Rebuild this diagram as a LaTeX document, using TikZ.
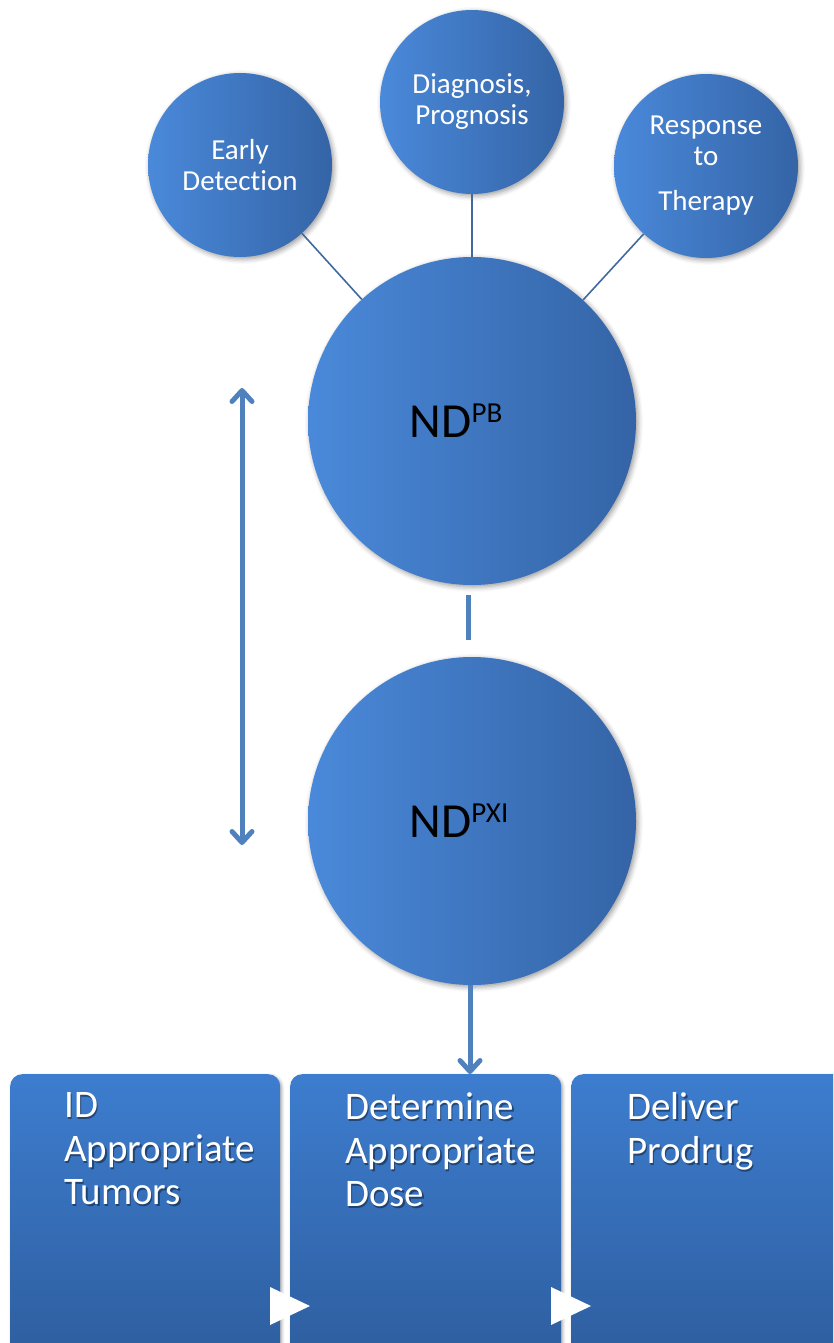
\documentclass[tikz,border=0pt]{standalone}
\usepackage{fontspec}
\setmainfont{Carlito}[Ligatures=NoCommon]
\usetikzlibrary{arrows.meta,shadows,shadows.blur,calc}

\definecolor{circL}{HTML}{4A89DA}
\definecolor{circR}{HTML}{3464A6}
\definecolor{boxT}{HTML}{3D7DCF}
\definecolor{boxB}{HTML}{2D5C9C}
\definecolor{linkC}{HTML}{41699E}
\definecolor{arrowC}{HTML}{4F81BD}

\begin{document}
\begin{tikzpicture}[x=1pt,y=-1pt,
  bubble/.style={circle, inner sep=0pt, minimum size=#1, draw=none,
    left color=circL, right color=circR,
    blur shadow={shadow xshift=2pt, shadow yshift=-2pt, shadow blur radius=5pt, shadow opacity=40},
    align=center},
  small/.style={bubble=184pt, text=white, font=\fontsize{29}{31}\selectfont},
  big/.style={bubble=328pt, text=black, font=\fontsize{49}{52}\selectfont},
  stage/.style={rectangle, rounded corners=12pt, inner sep=0pt, anchor=north west,
    minimum height=300pt, top color=boxT, bottom color=boxB,
    blur shadow={shadow xshift=1.5pt, shadow yshift=-1.5pt, shadow blur radius=3pt, shadow opacity=35}},
  stagetext/.style={anchor=north west, inner sep=0pt, align=left, text=white,
    font=\fontsize{39}{43.5}\selectfont},
  stageshadow/.style={stagetext, text=black, text opacity=0.4},
  link/.style={draw=linkC, line width=1.6pt},
  bar/.style={draw=arrowC, line width=5pt},
  tip/.style={bar, arrows={-Straight Barb[length=11pt,width=20pt,line join=round,line cap=round]}},
  dtip/.style={bar, arrows={Straight Barb[length=11pt,width=20pt,line join=round,line cap=round]-Straight Barb[length=11pt,width=20pt,line join=round,line cap=round]}},
  chevron/.style={fill=white}
]
\useasboundingbox (0,0) rectangle (833,1343);
\clip (0,0) rectangle (833,1343);

% outcome bubbles
\node[small] (early) at (240,165) {Early\\Detection};
\node[small] (diag)  at (472,102) {Diagnosis,\\Prognosis};
\node[small] (resp)  at (706,166) {Response\\to\\[14pt]Therapy};

% probe and payload bubbles (labels sit a little left of centre)
\node[big] (pb)  at (472,421) {\hspace*{-32pt}ND{\fontsize{29}{29}\selectfont\raisebox{15pt}{PB}}};
\node[big] (pxi) at (472,821) {\hspace*{-26pt}ND{\fontsize{29}{29}\selectfont\raisebox{15pt}{PXI}}};

% links from outcomes to the probe
\draw[link] (early) -- (pb);
\draw[link] (diag) -- (pb);
\draw[link] (resp) -- (pb);

% short bar between the two large bubbles
\draw[bar, shorten <=10pt, shorten >=17pt] ([xshift=-4pt]pb.south) -- ([xshift=-4pt]pxi.north);

% two-way arrow at the left
\coordinate (upT) at (242,388);
\coordinate (downT) at (242,845);
\draw[dtip] (upT) -- (downT);

% process stages
\node[stage, minimum width=270pt] (b1) at (10,1074) {};
\node[stage, minimum width=271pt] (b2) at (290,1074) {};
\node[stage, minimum width=300pt] (b3) at (571,1074) {};

\node[stageshadow] (t1s) at ($(b1.north west)+(55.5,20.5)$) {ID\\Appropriate\\Tumors};
\node[stagetext]   (t1)  at ($(b1.north west)+(54,18.5)$) {ID\\Appropriate\\Tumors};
\node[stageshadow] (t2s) at ($(b2.north west)+(56.5,20.5)$) {Determine\\Appropriate\\Dose};
\node[stagetext]   (t2)  at ($(b2.north west)+(55,18.5)$) {Determine\\Appropriate\\Dose};
\node[stageshadow] (t3s) at ($(b3.north west)+(57.5,20.5)$) {Deliver\\Prodrug};
\node[stagetext]   (t3)  at ($(b3.north west)+(56,18.5)$) {Deliver\\Prodrug};

% chevrons between stages
\fill[chevron] (270,1287) -- (310,1306) -- (270,1325) -- cycle;
\fill[chevron] (551,1287) -- (591,1306) -- (551,1325) -- cycle;

% arrow into the dose stage
\draw[tip] ([xshift=-2pt]pxi.south) -- ([xshift=-2pt]pxi.south |- b2.north);
\end{tikzpicture}
\end{document}
